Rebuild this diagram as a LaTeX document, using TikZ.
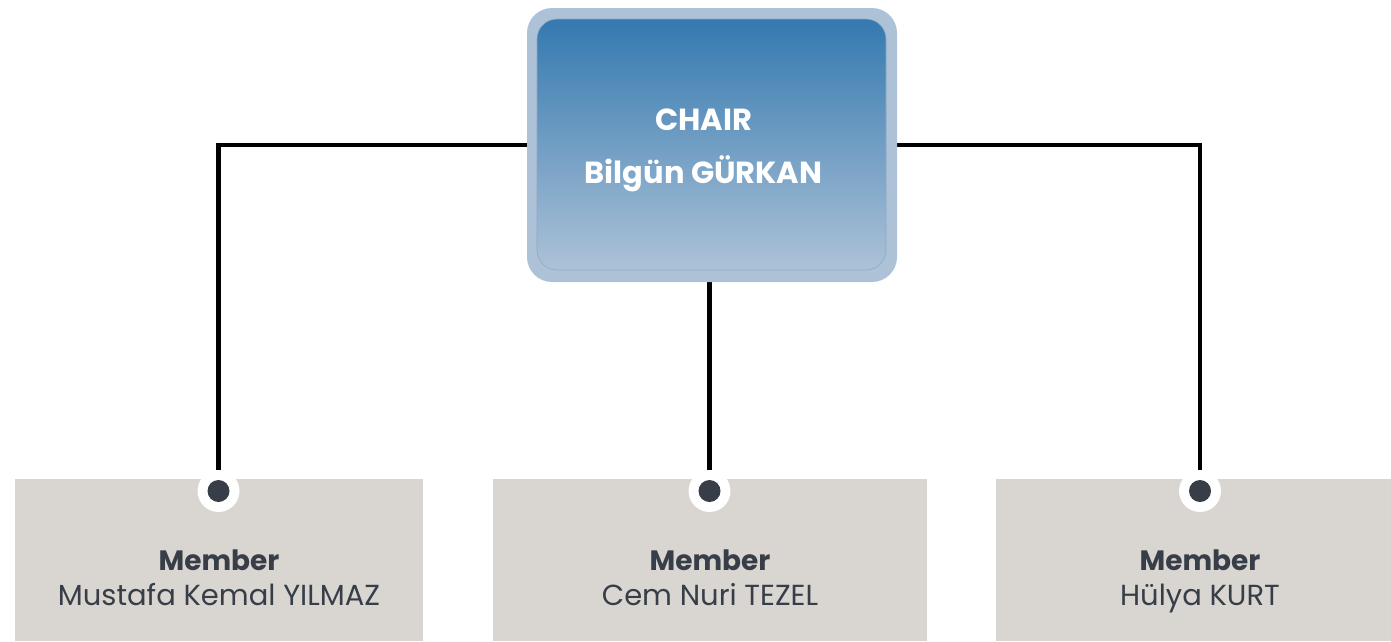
\documentclass[tikz,border=0pt]{standalone}
\usepackage{fontspec}
\setmainfont{Poppins}
\pgfdeclarelayer{bg}
\pgfsetlayers{bg,main}

\definecolor{frameblue}{HTML}{ADC2D7}
\definecolor{topblue}{HTML}{3479B0}
\definecolor{edgeblue}{HTML}{8FA8C4}
\definecolor{memberbg}{HTML}{D9D6D2}
\definecolor{ink}{HTML}{373E48}

\tikzset{
  chairframe/.style={rectangle, rounded corners=25pt, fill=frameblue,
    minimum width=370pt, minimum height=274pt, inner sep=0pt},
  chairbox/.style={rectangle, rounded corners=20pt, draw=edgeblue, line width=0.6pt,
    top color=topblue, bottom color=frameblue, shading angle=0,
    minimum width=349pt, minimum height=251pt, inner sep=0pt},
  chairtext/.style={text=white, font=\fontsize{30.5}{52}\selectfont\bfseries,
    align=center, inner sep=0pt},
  memberbox/.style={rectangle, fill=memberbg, inner sep=0pt, anchor=north west},
  ring/.style={circle, fill=white, minimum size=42pt, inner sep=0pt},
  dot/.style={circle, fill=ink, minimum size=22pt, inner sep=0pt},
  role/.style={text=ink, font=\fontsize{28}{30}\selectfont\bfseries, inner sep=0pt},
  person/.style={text=ink, font=\fontsize{29}{30}\selectfont, inner sep=0pt},
  link/.style={line width=4.5pt, draw=black},
}

\begin{document}
\begin{tikzpicture}[x=1pt, y=-1pt]
  \useasboundingbox (0,0) rectangle (1391,641);

  % chair
  \node[chairframe] (frame) at (712,145) {};
  \node[chairbox] (chair) at (711.5,144.5) {};
  \node[chairtext, anchor=base] (chairrole) at (703.5,130.5) {CHAIR};
  \node[chairtext, anchor=base] (chairname) at (703.5,183) {Bilgün GÜRKAN};

  % member panels
  \node[memberbox, minimum width=408pt, minimum height=162pt] (boxA) at (15,479) {};
  \node[memberbox, minimum width=434pt, minimum height=162pt] (boxB) at (493,479) {};
  \node[memberbox, minimum width=395pt, minimum height=162pt] (boxC) at (996,479) {};

  % connection points
  \node[ring] (ringA) at (218.5,491) {};
  \node[dot] (dotA) at (ringA) {};
  \node[ring] (ringB) at (709.5,491) {};
  \node[dot] (dotB) at (ringB) {};
  \node[ring] (ringC) at (1200,491) {};
  \node[dot] (dotC) at (ringC) {};

  % member labels
  \node[role, anchor=base] (roleA) at (219,570.5) {Member};
  \node[person, anchor=base] (nameA) at (219,605) {Mustafa Kemal YILMAZ};
  \node[role, anchor=base] (roleB) at (710,570.5) {Member};
  \node[person, anchor=base] (nameB) at (710,605) {Cem Nuri TEZEL};
  \node[role, anchor=base] (roleC) at (1200,570.5) {Member};
  \node[person, anchor=base] (nameC) at (1200,605) {Hülya KURT};

  % connectors
  \begin{pgfonlayer}{bg}
    \draw[link] (frame.west) -| (dotA.center);
    \draw[link] (frame.east) -| (dotC.center);
    \draw[link] (dotB.center |- frame.south) -- (dotB.center);
  \end{pgfonlayer}
\end{tikzpicture}
\end{document}
